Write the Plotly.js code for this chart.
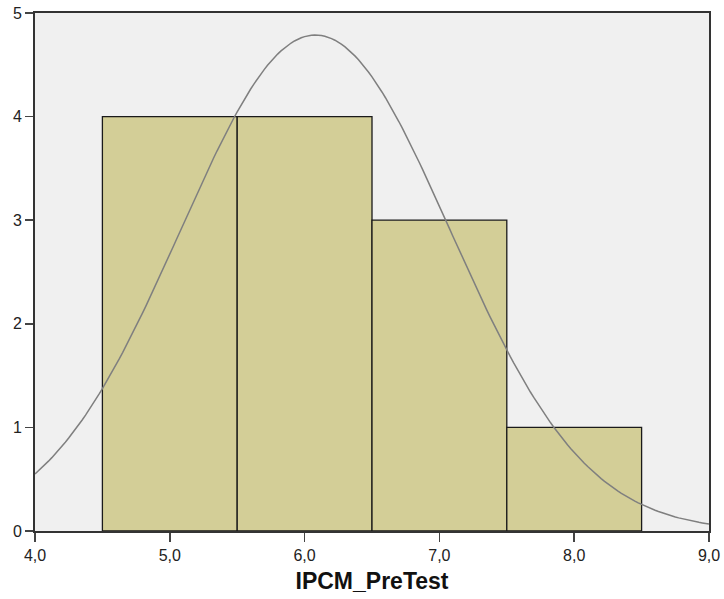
<!DOCTYPE html>
<html><head><meta charset="utf-8">
<script src="https://cdn.plot.ly/plotly-3.0.1.min.js"></script>
<style>html,body{margin:0;padding:0;background:#fff}#chart{width:724px;height:599px}</style>
</head><body><div id="chart"></div>
<script>
// Histogram bins (IPCM_PreTest)
var binCenters = [5.0, 6.0, 7.0, 8.0];
var binCounts = [4, 4, 3, 1];
var binWidth = 1.0;
// Fitted normal curve parameters (SPSS overlay)
var sampleN = 12;
var sampleMean = 6.08;
var sampleSD = 1.0;
var xTickVals = [4, 5, 6, 7, 8, 9];
var xTickText = ['4,0', '5,0', '6,0', '7,0', '8,0', '9,0'];
var yTickVals = [0, 1, 2, 3, 4, 5];

var cx = [], cy = [];
for (var i = 0; i <= 200; i++) {
  var x = 4 + 5 * i / 200;
  var z = (x - sampleMean) / sampleSD;
  cx.push(x);
  cy.push(sampleN * binWidth / (sampleSD * Math.sqrt(2 * Math.PI)) * Math.exp(-z * z / 2));
}

var data = [
  {type: 'bar', x: binCenters, y: binCounts, width: binWidth,
   marker: {color: '#d3ce97', line: {color: '#1a1a1a', width: 1.3}},
   hoverinfo: 'skip'},
  {type: 'scatter', mode: 'lines', x: cx, y: cy,
   line: {color: '#7f7f7f', width: 1.5}, hoverinfo: 'skip'}
];
var layout = {
  width: 724, height: 599,
  margin: {l: 35, r: 15, t: 13, b: 68},
  paper_bgcolor: '#ffffff', plot_bgcolor: '#f0f0f0',
  showlegend: false, bargap: 0,
  font: {family: 'Liberation Sans, Arial, sans-serif', size: 16, color: '#222'},
  xaxis: {range: [4, 9], tickvals: xTickVals, ticktext: xTickText,
    showgrid: false, zeroline: false, showline: true, linecolor: '#333', linewidth: 2,
    mirror: true, ticks: 'outside', ticklen: 9, tickwidth: 1.5, tickcolor: '#444',
    tickfont: {size: 16, color: '#222'},
    title: {text: '<b>IPCM_PreTest</b>', font: {size: 23, color: '#111'}, standoff: 10}},
  yaxis: {range: [0, 5], tickvals: yTickVals,
    showgrid: false, zeroline: false, showline: true, linecolor: '#333', linewidth: 2,
    mirror: true, ticks: 'outside', ticklen: 8, tickwidth: 1.5, tickcolor: '#444',
    tickfont: {size: 16, color: '#222'}}
};
Plotly.newPlot('chart', data, layout, {displayModeBar: false, staticPlot: true});
</script></body></html>
